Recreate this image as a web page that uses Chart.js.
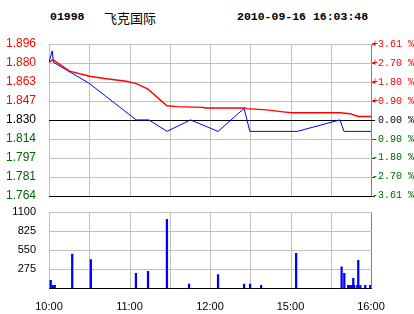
<!DOCTYPE html>
<html>
<head>
<meta charset="utf-8">
<script src="https://cdn.jsdelivr.net/npm/chart.js@4/dist/chart.umd.min.js"></script>
<style>
  body { margin: 0; background: #fff; width: 414px; height: 314px; overflow: hidden; position: relative; }
  .hdr { position: absolute; top: 10px; line-height: 14px; color: #000; white-space: nowrap; }
  .rule { position: absolute; }
  canvas { position: absolute; left: 0; }
</style>
</head>
<body>
<div class="hdr" style="left:50px;font:bold 11.5px 'Liberation Mono';">01998</div>
<div class="hdr" style="left:104px;top:8px;font:13px 'Noto Sans CJK SC';">飞克国际</div>
<div class="hdr" style="left:237px;font:bold 11.5px 'Liberation Mono';">2010-09-16 16:03:48</div>
<div id="rules"></div>
<canvas id="priceChart" width="414" height="208" style="top:0;width:414px;height:208px"></canvas>
<canvas id="volChart" width="414" height="114" style="top:200px;width:414px;height:114px"></canvas>
<script>
// Minutes since 10:00 (lunch 12:30-14:30 removed), 0..240
const PRICE_MIN = [0, 2.4, 3.4, 29.7, 65, 74.5, 88, 105.4, 126, 145.4, 149.7, 185, 216.9, 219.8, 240];
const PRICE = [1.880, 1.890, 1.880, 1.862, 1.830, 1.830, 1.820, 1.830, 1.820, 1.840, 1.820, 1.820, 1.830, 1.820, 1.820];

const AVG_MIN = [0, 2.8, 15.3, 30.2, 42.7, 57.6, 65.1, 73.8, 87.9, 95.4, 114.8, 116, 146, 147.2, 162.1, 174.5, 180.8, 216.8, 224.3, 230.5, 240];
const AVG = [1.880, 1.8824, 1.8724, 1.868, 1.8658, 1.8636, 1.8616, 1.8567, 1.8423, 1.8415, 1.8409, 1.8404, 1.8404, 1.8398, 1.8387, 1.837, 1.8362, 1.8362, 1.8354, 1.833, 1.833];

const VOL_MIN = [1.3, 2.8, 4.3, 17.3, 31.2, 64.8, 73.8, 87.9, 104.4, 126, 145.4, 149.9, 158.1, 184.2, 218.1, 220.1, 223, 224.5, 226, 226.8, 227.5, 229.8, 230.5, 232, 235.7, 239.4];
const VOL = [110, 40, 40, 490, 410, 210, 240, 990, 55, 195, 55, 55, 40, 500, 305, 210, 40, 40, 40, 140, 40, 40, 400, 40, 40, 40];

// Axis ticks (bottom to top)
const PRICE_TICKS = [1.764, 1.7805, 1.797, 1.8135, 1.830, 1.8465, 1.863, 1.8795, 1.896];
const PRICE_LABELS = ['1.764', '1.781', '1.797', '1.814', '1.830', '1.847', '1.863', '1.880', '1.896'];
const PCT_LABELS = ['-3.61 %', '-2.70 %', '-1.80 %', '-0.90 %', '0.00 %', '+0.90 %', '+1.80 %', '+2.70 %', '+3.61 %'];
const VOL_TICKS = [0, 275, 550, 825, 1100];
const TIME_TICKS = [0, 60, 120, 180, 240];
const TIME_LABELS = ['10:00', '11:00', '12:00', '15:00', '16:00'];

function levelColor(i) {
    if (i === 4) return '#000000';
    return i < 4 ? '#006600' : '#ff0000';
}

function setPriceTicks(scale) {
    scale.ticks = PRICE_TICKS.map(v => ({ value: v }));
}

/**
 * Grid rules as page elements under the canvas,
 * placed from the chart's own scales after layout
 */
function addRule(x, y, w, h, color) {
    const d = document.createElement('div');
    d.className = 'rule';
    d.style.left = x + 'px';
    d.style.top = y + 'px';
    d.style.width = w + 'px';
    d.style.height = h + 'px';
    d.style.background = color;
    document.getElementById('rules').appendChild(d);
}

function drawRules(chart, offsetTop, blackRows, withTicks) {
    const a = chart.chartArea;
    const { x: xs, y: ys } = chart.scales;
    const top = Math.round(a.top) + offsetTop;
    const bottom = Math.round(a.bottom) + offsetTop;
    const left = Math.round(a.left);
    const right = Math.round(a.right);

    xs.ticks.forEach((t, i) => {
        const px = Math.round(xs.getPixelForValue(t.value));
        const color = i === xs.ticks.length - 1 ? '#808080' : '#c0c0c0';
        addRule(px, top, 1, bottom - top + 1, color);
    });
    ys.ticks.forEach((t, i) => {
        const py = Math.round(ys.getPixelForValue(t.value)) + offsetTop;
        const color = blackRows.includes(i) ? '#000000' : '#c0c0c0';
        addRule(left, py, right - left + 1, 1, color);
        if (withTicks) {
            addRule(right + 1, py, 3, 1, levelColor(i));
        }
    });
}

const priceChart = new Chart(document.getElementById('priceChart'), {
    type: 'line',
    data: {
        datasets: [
            {
                label: 'avg',
                data: AVG_MIN.map((m, i) => ({ x: m, y: AVG[i] })),
                borderColor: '#ff0000',
                borderWidth: 1.4,
                pointRadius: 0,
                tension: 0,
                fill: false
            },
            {
                label: 'price',
                data: PRICE_MIN.map((m, i) => ({ x: m, y: PRICE[i] })),
                borderColor: '#0000ff',
                borderWidth: 1,
                pointRadius: 0,
                tension: 0,
                fill: false
            }
        ]
    },
    options: {
        responsive: false,
        animation: false,
        devicePixelRatio: 1,
        layout: { padding: { top: 44, left: 0, right: 0, bottom: 0 } },
        plugins: { legend: { display: false } },
        scales: {
            x: {
                type: 'linear',
                min: 0,
                max: 240,
                ticks: { display: false, stepSize: 30 },
                grid: { display: false },
                border: { display: false },
                afterFit: s => { s.height = 5; }
            },
            y: {
                type: 'linear',
                position: 'left',
                min: 1.764,
                max: 1.896,
                afterBuildTicks: setPriceTicks,
                ticks: {
                    autoSkip: false,
                    callback: (v, i) => PRICE_LABELS[i],
                    color: c => levelColor(c.index),
                    font: { family: 'Liberation Sans', size: 12 },
                    padding: 5
                },
                grid: { display: false },
                border: { display: false },
                afterFit: s => { s.width = 49; }
            },
            y1: {
                type: 'linear',
                position: 'right',
                min: 1.764,
                max: 1.896,
                afterBuildTicks: setPriceTicks,
                ticks: {
                    autoSkip: false,
                    callback: (v, i) => PCT_LABELS[i],
                    color: c => levelColor(c.index),
                    font: { family: 'Liberation Mono', size: 10 },
                    crossAlign: 'far',
                    padding: 0
                },
                grid: { display: false },
                border: { display: false },
                afterFit: s => { s.width = 43; }
            }
        }
    }
});

const volChart = new Chart(document.getElementById('volChart'), {
    type: 'bar',
    data: {
        datasets: [{
            label: 'volume',
            data: VOL_MIN.map((m, i) => ({ x: m, y: VOL[i] })),
            backgroundColor: '#0000ff',
            borderWidth: 0,
            barThickness: 1.6,
            grouped: false
        }]
    },
    options: {
        responsive: false,
        animation: false,
        devicePixelRatio: 1,
        layout: { padding: { top: 9, left: 0, right: 43, bottom: 0 } },
        plugins: { legend: { display: false } },
        scales: {
            x: {
                type: 'linear',
                min: 0,
                max: 240,
                offset: false,
                ticks: {
                    stepSize: 30,
                    autoSkip: false,
                    maxRotation: 0,
                    callback: v => {
                        const idx = TIME_TICKS.indexOf(v);
                        return idx >= 0 ? TIME_LABELS[idx] : '';
                    },
                    color: '#000000',
                    font: { family: 'Liberation Sans', size: 11 },
                    padding: 4
                },
                grid: { display: false, offset: false },
                border: { display: false },
                afterFit: s => { s.height = 26; }
            },
            y: {
                type: 'linear',
                position: 'left',
                min: 0,
                max: 1100,
                afterBuildTicks: s => { s.ticks = VOL_TICKS.map(v => ({ value: v })); },
                ticks: {
                    autoSkip: false,
                    callback: v => (v === 0 ? '' : String(v)),
                    color: '#000000',
                    font: { family: 'Liberation Sans', size: 11 },
                    padding: 5
                },
                grid: { display: false },
                border: { display: false },
                afterFit: s => { s.width = 49; }
            }
        }
    }
});

drawRules(priceChart, 0, [0, 4], true);
drawRules(volChart, 200, [0], false);
</script>
</body>
</html>
